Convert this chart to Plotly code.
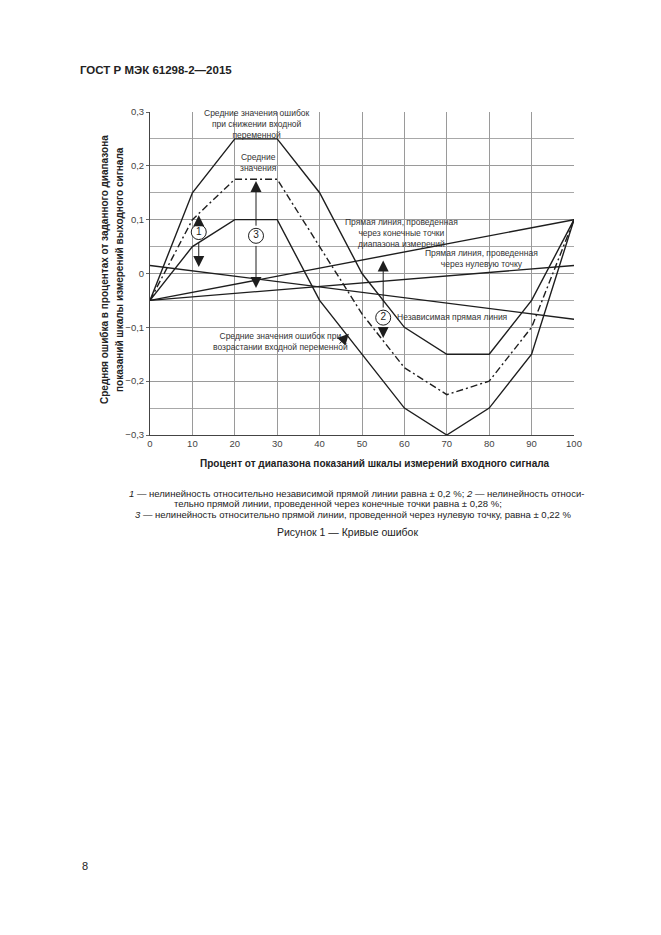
import plotly.graph_objects as go

# ---- data ----
x_pct = [0, 10, 20, 30, 40, 50, 60, 70, 80, 90, 100]
err_decreasing = [-0.05, 0.15, 0.25, 0.25, 0.15, 0.0, -0.10, -0.15, -0.15, -0.05, 0.10]
err_increasing = [-0.05, 0.05, 0.10, 0.10, -0.05, -0.15, -0.25, -0.30, -0.25, -0.15, 0.10]
err_mean = [-0.05, 0.10, 0.175, 0.175, 0.05, -0.075, -0.175, -0.225, -0.20, -0.10, 0.10]

line_x = [0, 100]
endpoint_line = [-0.05, 0.10]
zero_point_line = [-0.05, 0.015]
independent_line = [0.015, -0.085]

x_ticks = [0, 10, 20, 30, 40, 50, 60, 70, 80, 90, 100]
y_ticks = [-0.3, -0.2, -0.1, 0, 0.1, 0.2, 0.3]
y_ticktext = ["\u22120,3", "\u22120,2", "\u22120,1", "0", "0,1", "0,2", "0,3"]

# circled markers: label, x, y (center), top tip, bottom tip
markers_lbl = ["1", "3", "2"]
markers_x = [11.5, 25, 55]
markers_y = [0.077, 0.070, -0.082]
arrow_top = [0.108, 0.172, 0.024]
arrow_bot = [0.012, -0.027, -0.120]

FONT = "Liberation Sans, Arial, sans-serif"
INK = "#1e1e1e"
TXT = "#333333"

fig = go.Figure()

def add_line(xs, ys, dash="solid"):
    fig.add_trace(go.Scatter(x=xs, y=ys, mode="lines",
                             line=dict(color=INK, width=1.4, dash=dash),
                             hoverinfo="skip", showlegend=False, cliponaxis=False))

add_line(line_x, endpoint_line)
add_line(line_x, zero_point_line)
add_line(line_x, independent_line)
add_line(x_pct, err_decreasing)
add_line(x_pct, err_increasing)
add_line(x_pct, err_mean, dash="7px,3px,2px,3px")

annotations = []
circle_r = 0.016
ARW = dict(arrowhead=2, arrowsize=2.2, arrowwidth=1, arrowcolor=INK)
for lbl, mx, my, top, bot in zip(markers_lbl, markers_x, markers_y, arrow_top, arrow_bot):
    annotations.append(dict(x=mx, y=top, ax=mx, ay=my + circle_r, xref="x", yref="y",
                            axref="x", ayref="y", text="", showarrow=True, **ARW))
    annotations.append(dict(x=mx, y=bot, ax=mx, ay=my - circle_r, xref="x", yref="y",
                            axref="x", ayref="y", text="", showarrow=True, **ARW))

fig.add_trace(go.Scatter(x=markers_x, y=markers_y, mode="markers+text",
                         text=markers_lbl, textposition="middle center",
                         textfont=dict(family=FONT, size=10, color=INK),
                         marker=dict(symbol="circle", size=15, color="white",
                                     line=dict(color=INK, width=1)),
                         hoverinfo="skip", showlegend=False, cliponaxis=False))

def note(x, y, text, size=8.5):
    annotations.append(dict(x=x, y=y, xref="x", yref="y", text=text, showarrow=False,
                            font=dict(family=FONT, size=size, color=TXT),
                            align="center", bgcolor="rgba(0,0,0,0)"))

note(25.2, 0.278, "Средние значения ошибок<br>при снижении входной<br>переменной")
note(25.5, 0.206, "Средние<br>значения")
note(59.4, 0.075, "Прямая линия, проведенная<br>через конечные точки<br>диапазона измерений")
note(78.3, 0.027, "Прямая линия, проведенная<br>через нулевую точку")
note(71.4, -0.081, "Независимая прямая линия")
note(30.7, -0.127, "Средние значения ошибок при<br>возрастании входной переменной")
annotations.append(dict(x=46.9, y=-0.112, ax=44.4, ay=-0.133, xref="x", yref="y",
                        axref="x", ayref="y", text="", showarrow=True, **ARW))

# page has an 8px body margin: shift layout so the plot lands where the reference has it
OFF = 8
W, H = 661, 935
L, R, T, B = 150 - OFF, 87 + OFF, 112 - OFF, 500 + OFF
PW, PH = W - L - R, H - T - B

def page_text(px, py, text, size, bold=False, xanchor="left", angle=0, align="left"):
    px -= OFF
    py -= OFF
    annotations.append(dict(x=(px - L) / PW, y=(H - B - py) / PH, xref="paper", yref="paper",
                            text=text if not bold else "<b>%s</b>" % text, showarrow=False,
                            xanchor=xanchor, yanchor="middle", textangle=angle, align=align,
                            font=dict(family=FONT, size=size, color="#222222")))

page_text(78, 70, "ГОСТ Р МЭК 61298-2—2015", 11.5, bold=True)
page_text(104, 270, "Средняя ошибка в процентах от заданного диапазона", 10, bold=True,
          xanchor="center", angle=-90)
page_text(119, 270, "показаний шкалы измерений выходного сигнала", 10, bold=True,
          xanchor="center", angle=-90)
page_text(375, 463, "Процент от диапазона показаний шкалы измерений входного сигнала", 10,
          bold=True, xanchor="center")
page_text(127, 493, "<i>1</i> — нелинейность относительно независимой прямой линии равна ± 0,2 %; "
          "<i>2</i> — нелинейность относи-", 9.5)
page_text(172, 503, "тельно прямой линии, проведенной через конечные точки равна ± 0,28 %;", 9.5)
page_text(133, 514, "<i>3</i> — нелинейность относительно прямой линии, проведенной через нулевую точку, "
          "равна ± 0,22 %", 9.5)
page_text(347, 532, "Рисунок 1 — Кривые ошибок", 10.5, xanchor="center")
page_text(80, 866, "8", 11)

fig.update_layout(
    width=W, height=H,
    margin=dict(l=L, r=R, t=T, b=B, pad=0),
    paper_bgcolor="white", plot_bgcolor="white",
    annotations=annotations,
    xaxis=dict(range=[0, 100], tickvals=x_ticks, ticktext=[str(v) for v in x_ticks],
               showgrid=True, gridcolor="#9a9a9a", gridwidth=1,
               showline=True, linecolor="#444444", linewidth=1,
               ticks="", tickfont=dict(family=FONT, size=9.5, color="#444444"),
               zeroline=False, fixedrange=True),
    yaxis=dict(range=[-0.3, 0.3], tickvals=y_ticks, ticktext=y_ticktext,
               showgrid=True, gridcolor="#9a9a9a", gridwidth=1,
               minor=dict(dtick=0.05, showgrid=True, gridcolor="#a8a8a8", gridwidth=1),
               showline=True, linecolor="#444444", linewidth=1,
               ticks="outside", ticklen=3, tickcolor="#666666",
               tickfont=dict(family=FONT, size=9.5, color="#444444"),
               zeroline=False, fixedrange=True),
)

fig.write_html("out.html")
